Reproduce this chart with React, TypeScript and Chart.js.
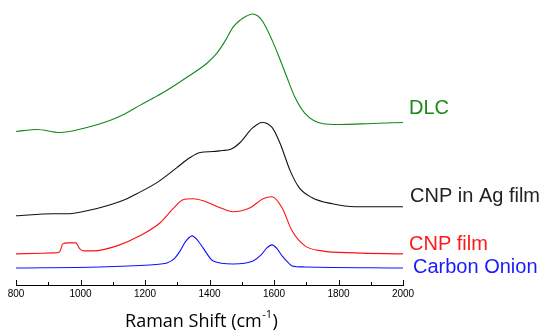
import React, { useEffect, useRef } from "react";
import { Chart, registerables } from "chart.js";

Chart.register(...registerables);

// Raman shift (cm^-1) and stacked intensity (arbitrary units, offset per trace)
const dlcX = [800, 865, 936, 1008, 1091, 1140, 1184, 1230, 1268, 1330, 1392, 1423, 1450, 1473, 1495, 1515, 1532, 1550, 1566, 1594, 1616, 1640, 1665, 1696, 1749, 1802, 1904, 2000];
const dlcY = [153, 155, 152, 156, 164, 171, 179, 187, 194, 207, 221, 231, 244, 257, 264, 268, 270, 268, 262, 244, 227, 207, 187, 171, 161, 160, 161, 162];

const agX = [800, 915, 958, 1020, 1082, 1144, 1175, 1237, 1299, 1340, 1371, 1411, 1440, 1464, 1495, 1532, 1563, 1594, 1619, 1650, 1678, 1718, 1780, 1851, 2000];
const agY = [69, 71, 71, 74, 79, 86, 91, 102, 117, 127, 132, 133, 134, 135, 142, 156, 162, 157, 141, 114, 97, 87, 81, 78, 78];

const cnpX = [800, 915, 935, 945, 960, 985, 998, 1010, 1040, 1113, 1184, 1247, 1287, 1318, 1349, 1380, 1433, 1473, 1526, 1566, 1594, 1625, 1656, 1696, 1749, 1850, 2000];
const cnpY = [31, 32, 33, 41, 42, 42, 36, 34, 34, 39, 49, 62, 76, 85, 86, 84, 77, 73, 77, 86, 88, 77, 54, 39, 34, 32, 31];

const onionX = [800, 1060, 1215, 1250, 1268, 1290, 1309, 1325, 1346, 1362, 1380, 1411, 1473, 1535, 1560, 1578, 1594, 1610, 1625, 1645, 1656, 1696, 2000];
const onionY = [17, 18, 20, 21, 22, 26, 34, 43, 49, 45, 37, 24, 21, 24, 30, 37, 40, 36, 29, 22, 19, 18, 17];

const seriesNames = ["DLC", "CNP in Ag film", "CNP film", "Carbon Onion"];
const xTickLabels = [800, 1000, 1200, 1400, 1600, 1800, 2000];
const xMinorTicks = [900, 1100, 1300, 1500, 1700, 1900];
const axisTitle = "Raman Shift (cm";
const axisTitleSup = "-1";
const axisTitleEnd = ")";

const colors = ["#11881a", "#111111", "#ff1010", "#1010ff"];
const labelColors = ["#1a8a1a", "#222222", "#ff1a1a", "#1a1aff"];
const labelDy = [-14, -10, -9, 0];
const labelDx = [6, 7, 6, 10];

export default function App() {
  const ref = useRef<HTMLCanvasElement | null>(null);

  useEffect(() => {
    document.body.style.margin = "0";
    const xs = [dlcX, agX, cnpX, onionX];
    const ys = [dlcY, agY, cnpY, onionY];
    const datasets = seriesNames.map((name, i) => ({
      label: name,
      data: xs[i].map((x, j) => ({ x, y: ys[i][j] })),
      borderColor: colors[i],
      borderWidth: 1.1,
      pointRadius: 0,
      fill: false,
      cubicInterpolationMode: "monotone" as const,
    }));

    const tickPlugin = {
      id: "innerTicks",
      afterDraw(chart: any) {
        const ctx = chart.ctx;
        const xs = chart.scales.x;
        const area = chart.chartArea;
        const yb = area.bottom;
        ctx.save();
        ctx.strokeStyle = "#000";
        ctx.lineWidth = 1;
        ctx.beginPath();
        xTickLabels.forEach((v) => {
          const px = Math.round(xs.getPixelForValue(v)) + 0.5;
          ctx.moveTo(px, yb);
          ctx.lineTo(px, yb - 5);
        });
        xMinorTicks.forEach((v) => {
          const px = Math.round(xs.getPixelForValue(v)) + 0.5;
          ctx.moveTo(px, yb);
          ctx.lineTo(px, yb - 3);
        });
        ctx.stroke();

        // series labels
        chart.data.datasets.forEach((ds: any, i: number) => {
          const last = ds.data[ds.data.length - 1];
          const px = xs.getPixelForValue(last.x) + labelDx[i];
          const py = chart.scales.y.getPixelForValue(last.y) + labelDy[i];
          ctx.fillStyle = labelColors[i];
          ctx.font = "20px 'Liberation Sans', Arial, sans-serif";
          ctx.textBaseline = "middle";
          ctx.textAlign = "left";
          ctx.fillText(ds.label, px, py);
        });

        // axis title with superscript
        const mainFont = "18px 'Open Sans', sans-serif";
        const supFont = "11px 'Open Sans', sans-serif";
        ctx.fillStyle = "#000";
        ctx.textBaseline = "alphabetic";
        ctx.font = mainFont;
        const w1 = ctx.measureText(axisTitle).width;
        const w3 = ctx.measureText(axisTitleEnd).width;
        ctx.font = supFont;
        const w2 = ctx.measureText(axisTitleSup).width;
        const total = w1 + w2 + w3 + 1;
        const cx = (area.left + area.right) / 2 - 8;
        let x0 = cx - total / 2;
        const base = yb + 42;
        ctx.font = mainFont;
        ctx.fillText(axisTitle, x0, base);
        x0 += w1;
        ctx.font = supFont;
        ctx.fillText(axisTitleSup, x0 + 0.5, base - 9);
        x0 += w2 + 1;
        ctx.font = mainFont;
        ctx.fillText(axisTitleEnd, x0, base);
        ctx.restore();
      },
    };

    const chart = new Chart(ref.current as HTMLCanvasElement, {
      type: "line",
      data: { datasets },
      options: {
        animation: false,
        responsive: false,
        maintainAspectRatio: false,
        layout: { padding: { left: 16, right: 141, top: 0, bottom: 32 } },
        plugins: { legend: { display: false }, tooltip: { enabled: false } },
        scales: {
          x: {
            type: "linear",
            min: 800,
            max: 2000,
            grid: { display: false, drawTicks: false },
            border: { display: true, color: "#000", width: 1 },
            ticks: {
              stepSize: 200,
              padding: 3,
              maxRotation: 0,
              autoSkip: false,
              color: "#000",
              font: { family: "'Liberation Sans', Arial, sans-serif", size: 10 },
              callback: (v: any) => String(v),
            },
            title: { display: false },
          },
          y: { display: false, min: 0, max: 284 },
        },
      },
      plugins: [tickPlugin],
    });
    return () => chart.destroy();
  }, []);

  return (
    <div style={{ position: "fixed", left: 0, top: 0, width: 544, height: 335, background: "#fff" }}>
      <canvas ref={ref} width={544} height={335} />
    </div>
  );
}
